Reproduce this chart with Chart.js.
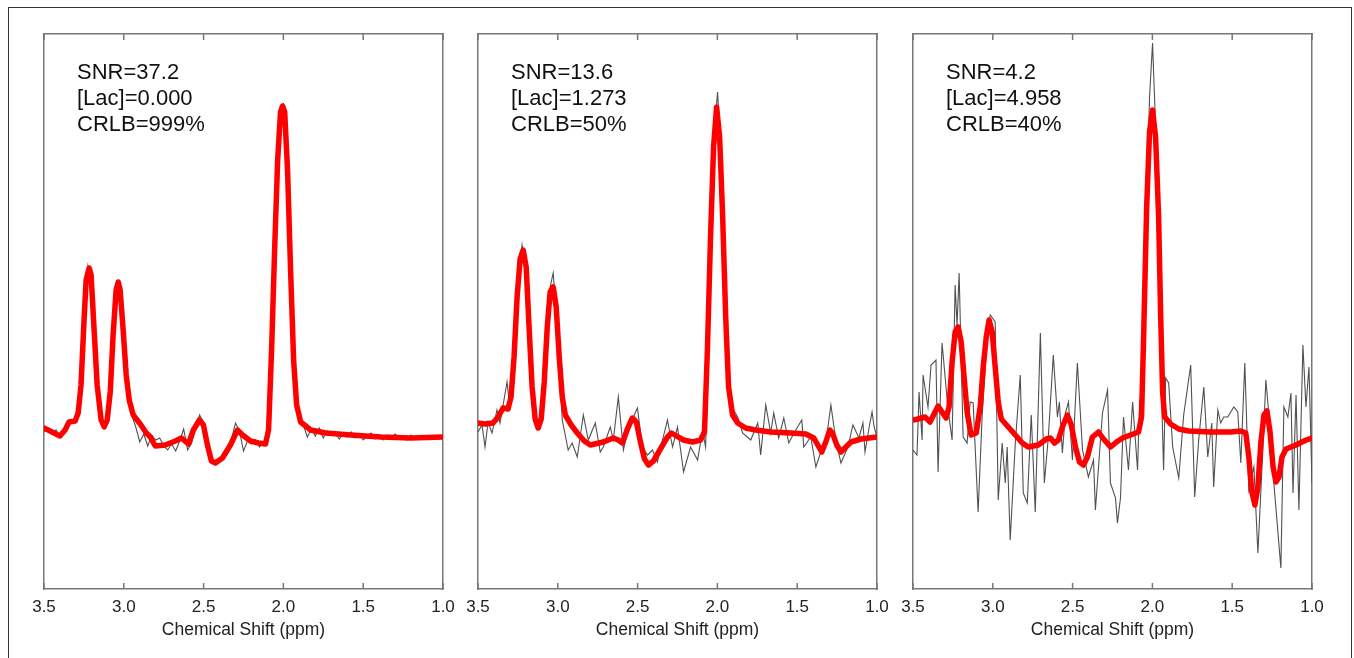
<!DOCTYPE html>
<html><head><meta charset="utf-8">
<script src="https://cdn.jsdelivr.net/npm/chart.js@4.4.1/dist/chart.umd.min.js"></script>
<style>
html,body{margin:0;padding:0;background:#fff;overflow:hidden;width:1354px;height:658px;}
#frame{position:absolute;left:8px;top:7px;width:1344px;height:700px;box-sizing:border-box;border:1px solid #333;}
canvas{position:absolute;}
</style></head><body>
<div id="frame"></div>
<canvas id="c0" width="459" height="630" style="left:14px;top:24px"></canvas>
<canvas id="c1" width="459" height="630" style="left:448px;top:24px"></canvas>
<canvas id="c2" width="459" height="630" style="left:883px;top:24px"></canvas>
<script>
// ---- axis ----
const tickValues = [3.5, 3.0, 2.5, 2.0, 1.5, 1.0];
const tickLabels = ['3.5', '3.0', '2.5', '2.0', '1.5', '1.0'];
const axisTitle = 'Chemical Shift (ppm)';

// ---- annotations ----
const snrLabels = ['SNR=37.2', 'SNR=13.6', 'SNR=4.2'];
const lacLabels = ['[Lac]=0.000', '[Lac]=1.273', '[Lac]=4.958'];
const crlbLabels = ['CRLB=999%', 'CRLB=50%', 'CRLB=40%'];

// ---- panel 1 (SNR 37.2) ----
const p1GrayPpm = [3.500,3.475,3.450,3.425,3.400,3.375,3.350,3.325,3.300,3.275,3.250,3.225,3.200,3.175,3.150,3.125,3.100,3.075,3.050,3.025,3.000,2.975,2.950,2.925,2.900,2.875,2.850,2.825,2.800,2.775,2.750,2.725,2.700,2.675,2.650,2.625,2.600,2.575,2.550,2.525,2.500,2.475,2.450,2.425,2.400,2.375,2.350,2.325,2.300,2.275,2.250,2.225,2.200,2.175,2.150,2.125,2.100,2.075,2.050,2.025,2.000,1.975,1.950,1.925,1.900,1.875,1.850,1.825,1.800,1.775,1.750,1.725,1.700,1.675,1.650,1.625,1.600,1.575,1.550,1.525,1.500,1.475,1.450,1.425,1.400,1.375,1.350,1.325,1.300,1.275,1.250,1.225,1.200,1.175,1.150,1.125,1.100,1.075,1.050,1.025,1.000];
const p1Gray = [5,9,3,7,0,4,14,17,18,40,115,170,140,75,25,11,22,80,148,152,105,50,22,10,-5,3,-9,2,-3,-1,-9,-13,-7,-14,-4,8,-13,-6,10,22,14,-10,-26,-27,-24,-20,-12,-2,14,6,-14,-4,-7,-3,-10,-6,0,85,200,305,334,265,150,45,16,12,0,8,1,9,-1,6,2,4,-2,3,0,5,-1,3,-3,1,4,-2,1,-3,2,-1,3,-1,0,-3,2,-2,1,-1,0,-2,1,0,0];
const p1FitPpm = [3.500,3.450,3.400,3.368,3.343,3.305,3.286,3.268,3.249,3.236,3.217,3.205,3.186,3.167,3.142,3.123,3.104,3.085,3.067,3.048,3.035,3.023,3.004,2.985,2.966,2.941,2.897,2.859,2.834,2.803,2.740,2.677,2.639,2.595,2.564,2.526,2.501,2.476,2.451,2.426,2.382,2.332,2.288,2.256,2.206,2.156,2.112,2.093,2.074,2.055,2.036,2.018,2.005,1.992,1.974,1.955,1.936,1.917,1.892,1.829,1.735,1.578,1.389,1.201,1.000];
const p1Fit = [9,5,1,7,15,16,24,52,117,157,169,162,107,52,17,10,17,45,102,147,155,147,107,62,37,22,13,4,0,-9,-8,-4,-1,-7,7,17,12,-8,-24,-26,-21,-8,7,2,-4,-6,-7,7,87,187,277,325,331,325,267,167,77,32,15,7,4,2,0,-1,0];

// ---- panel 2 (SNR 13.6) ----
const p2GrayPpm = [3.500,3.475,3.456,3.437,3.412,3.381,3.362,3.318,3.299,3.274,3.249,3.224,3.205,3.180,3.161,3.136,3.117,3.098,3.073,3.048,3.029,3.010,2.991,2.972,2.935,2.910,2.878,2.840,2.809,2.765,2.734,2.715,2.671,2.652,2.621,2.589,2.558,2.501,2.470,2.438,2.407,2.376,2.344,2.313,2.281,2.250,2.212,2.168,2.124,2.093,2.074,2.055,2.036,2.017,1.999,1.980,1.961,1.942,1.923,1.898,1.873,1.842,1.791,1.747,1.729,1.697,1.666,1.647,1.616,1.584,1.553,1.509,1.471,1.459,1.415,1.383,1.352,1.320,1.289,1.258,1.226,1.182,1.151,1.113,1.088,1.075,1.050,1.031,1.018,1.000];
const p2Gray = [5,12,-10,15,4,27,14,55,27,80,155,192,175,100,45,12,8,30,95,150,164,125,70,17,-13,-6,-20,22,-3,14,-15,-10,10,-3,40,-13,9,29,-10,-18,-13,-25,-3,17,-10,10,-35,-10,-23,7,-10,80,210,310,345,290,170,70,30,27,20,4,-3,14,-18,32,4,24,-1,19,-6,7,17,-10,0,-30,-15,-5,32,-3,-26,-10,12,-1,14,-15,9,25,10,0];
const p2FitPpm = [3.500,3.456,3.406,3.374,3.343,3.312,3.293,3.274,3.255,3.236,3.217,3.198,3.180,3.161,3.142,3.123,3.104,3.085,3.066,3.048,3.029,3.010,2.991,2.972,2.953,2.916,2.878,2.834,2.796,2.715,2.652,2.621,2.595,2.564,2.533,2.508,2.482,2.457,2.432,2.401,2.357,2.313,2.288,2.256,2.212,2.156,2.106,2.081,2.062,2.043,2.024,2.005,1.986,1.967,1.948,1.930,1.905,1.873,1.823,1.760,1.666,1.540,1.446,1.396,1.371,1.346,1.321,1.296,1.277,1.252,1.226,1.195,1.163,1.100,1.000];
const p2Fit = [14,13,14,20,29,28,40,80,140,178,187,170,110,50,18,9,18,55,110,145,150,130,80,40,22,12,4,-4,-8,-5,-1,-3,-6,8,19,15,-5,-22,-28,-24,-12,0,4,1,-3,-5,-3,5,90,200,290,330,300,220,120,50,22,14,9,7,5,4,3,-1,-8,-15,-5,7,3,-8,-15,-10,-5,-2,0];

// ---- panel 3 (SNR 4.2) ----
const p3GrayPpm = [3.500,3.475,3.462,3.443,3.437,3.406,3.387,3.356,3.343,3.318,3.280,3.255,3.236,3.224,3.211,3.186,3.161,3.142,3.123,3.092,3.067,3.035,3.016,2.985,2.966,2.941,2.922,2.910,2.891,2.859,2.828,2.809,2.784,2.759,2.734,2.702,2.677,2.652,2.621,2.595,2.583,2.564,2.545,2.526,2.501,2.470,2.438,2.401,2.369,2.357,2.313,2.281,2.263,2.231,2.219,2.200,2.181,2.150,2.124,2.093,2.080,2.062,2.043,2.018,1.999,1.980,1.961,1.942,1.930,1.917,1.898,1.873,1.835,1.804,1.760,1.735,1.710,1.678,1.653,1.628,1.616,1.590,1.572,1.553,1.528,1.490,1.465,1.446,1.421,1.396,1.364,1.339,1.308,1.289,1.258,1.239,1.195,1.176,1.151,1.132,1.119,1.100,1.082,1.057,1.038,1.019,1.000];
const p3Gray = [-13,-18,45,-3,62,30,72,77,-35,94,27,-3,152,112,164,0,-6,35,34,-75,20,100,122,115,-63,-6,-46,-10,-103,-6,62,-56,-66,22,-75,104,-46,0,82,20,35,-16,24,35,-23,74,-13,-40,-23,-73,24,47,-46,-61,-86,-61,20,-33,35,-33,37,40,200,340,394,310,170,40,-33,59,54,-10,-41,22,72,-60,-3,50,-20,14,-50,27,14,20,20,30,25,-26,74,-53,-30,-116,-13,57,0,-46,-131,30,20,44,-56,42,-73,92,30,70,-46];
const p3FitPpm = [3.500,3.469,3.425,3.393,3.362,3.343,3.318,3.293,3.274,3.255,3.236,3.217,3.198,3.180,3.161,3.136,3.104,3.079,3.060,3.041,3.023,3.004,2.985,2.966,2.947,2.903,2.859,2.815,2.778,2.715,2.664,2.639,2.614,2.589,2.564,2.533,2.508,2.482,2.457,2.432,2.407,2.376,2.338,2.306,2.262,2.225,2.187,2.137,2.087,2.068,2.055,2.036,2.018,1.999,1.980,1.961,1.948,1.936,1.923,1.886,1.835,1.773,1.635,1.509,1.446,1.415,1.396,1.377,1.358,1.339,1.320,1.301,1.282,1.263,1.244,1.226,1.207,1.188,1.163,1.100,1.037,1.000];
const p3Fit = [17,18,20,15,25,31,25,19,30,75,105,110,95,60,25,2,4,30,70,100,117,105,70,35,18,10,2,-6,-10,-8,-2,-1,-6,-3,10,22,12,-10,-25,-28,-20,0,5,-2,-10,-5,-1,2,5,20,100,230,305,327,300,220,120,45,20,13,8,6,5,5,6,4,-20,-55,-68,-50,-5,22,26,5,-30,-45,-40,-20,-12,-8,-3,-1];

const yMin = -152, yMax = 403;
const FONT = '"Liberation Sans", Arial, Helvetica, sans-serif';
Chart.defaults.font.family = FONT;

const panels = [
  {id: 'c0', grayPpm: p1GrayPpm, gray: p1Gray, fitPpm: p1FitPpm, fit: p1Fit},
  {id: 'c1', grayPpm: p2GrayPpm, gray: p2Gray, fitPpm: p2FitPpm, fit: p2Fit},
  {id: 'c2', grayPpm: p3GrayPpm, gray: p3Gray, fitPpm: p3FitPpm, fit: p3Fit}
];

function pts(xs, ys) { return xs.map((x, i) => ({x: x, y: ys[i]})); }

const innerTicks = {
  id: 'innerTicks',
  afterDraw(chart) {
    const ctx = chart.ctx, a = chart.chartArea, sx = chart.scales.x;
    ctx.save();
    ctx.strokeStyle = '#777';
    ctx.lineWidth = 1.5;
    sx.ticks.forEach(t => {
      const px = sx.getPixelForValue(t.value);
      ctx.beginPath();
      ctx.moveTo(px, a.bottom); ctx.lineTo(px, a.bottom - 6);
      ctx.moveTo(px, a.top); ctx.lineTo(px, a.top + 6);
      ctx.stroke();
    });
    ctx.restore();
  }
};

function textPlugin(idx) {
  return {
    id: 'infoText',
    afterDraw(chart) {
      const ctx = chart.ctx, a = chart.chartArea;
      ctx.save();
      ctx.fillStyle = '#111';
      ctx.font = '22px ' + FONT;
      ctx.textBaseline = 'alphabetic';
      ctx.textAlign = 'left';
      const lines = [snrLabels[idx], lacLabels[idx], crlbLabels[idx]];
      lines.forEach((s, k) => ctx.fillText(s, a.left + 33, a.top + 45 + k * 26));
      ctx.restore();
    }
  };
}

const borderCfg = {display: true, color: '#777', width: 1.5};

panels.forEach((p, idx) => {
  new Chart(document.getElementById(p.id), {
    type: 'line',
    data: {
      datasets: [
        {data: pts(p.fitPpm, p.fit), borderColor: '#ff0000', borderWidth: 5.5, pointRadius: 0, tension: 0,
         borderJoinStyle: 'round', borderCapStyle: 'round', fill: false, order: 0},
        {data: pts(p.grayPpm, p.gray), borderColor: '#505050', borderWidth: 1.1, pointRadius: 0, tension: 0,
         fill: false, order: 1}
      ]
    },
    options: {
      responsive: false, animation: false, devicePixelRatio: 1,
      layout: {padding: 0},
      plugins: {legend: {display: false}, tooltip: {enabled: false}},
      scales: {
        x: {
          type: 'linear', position: 'bottom', min: 1.0, max: 3.5, reverse: true,
          afterBuildTicks: s => { s.ticks = tickValues.map(v => ({value: v})); },
          ticks: {autoSkip: false, maxRotation: 0, padding: 8, color: '#222', font: {size: 17},
                  callback: (v, i) => tickLabels[i]},
          grid: {display: false, drawTicks: false},
          border: borderCfg,
          title: {display: true, text: axisTitle, color: '#222', font: {size: 17.5}, padding: {top: 0, bottom: 13}},
          afterFit: s => { s.height = 65; }
        },
        xTop: {
          type: 'linear', position: 'top', min: 1.0, max: 3.5, reverse: true,
          ticks: {display: false}, grid: {display: false, drawTicks: false}, border: borderCfg,
          afterFit: s => { s.height = 10; }
        },
        y: {
          type: 'linear', position: 'left', min: yMin, max: yMax,
          ticks: {display: false}, grid: {display: false, drawTicks: false}, border: borderCfg,
          afterFit: s => { s.width = 30; }
        },
        yRight: {
          type: 'linear', position: 'right', min: yMin, max: yMax,
          ticks: {display: false}, grid: {display: false, drawTicks: false}, border: borderCfg,
          afterFit: s => { s.width = 30; }
        }
      }
    },
    plugins: [innerTicks, textPlugin(idx)]
  });
});
</script>
</body></html>
